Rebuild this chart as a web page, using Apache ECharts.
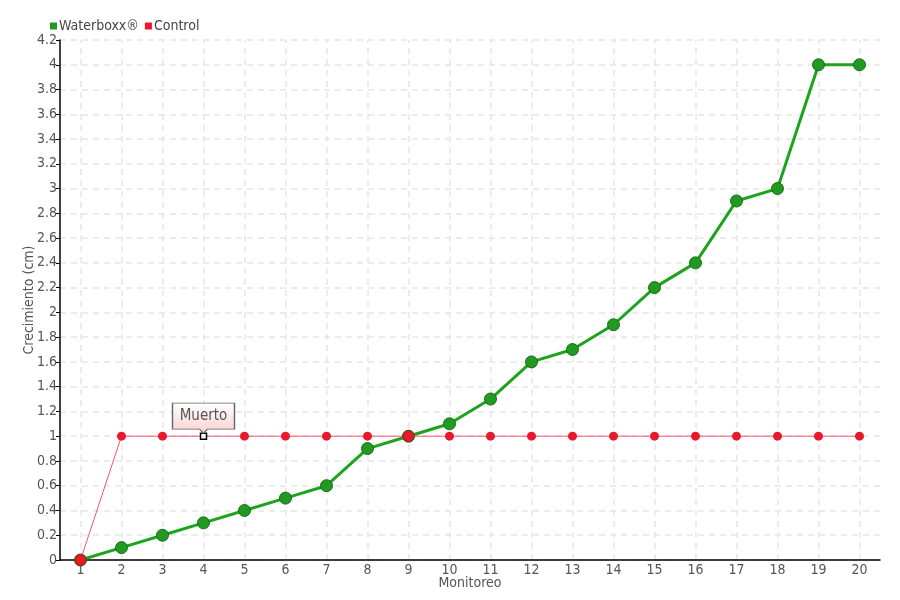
<!DOCTYPE html>
<html>
<head>
<meta charset="utf-8">
<script src="https://cdn.jsdelivr.net/npm/echarts@6/dist/echarts.min.js"></script>
<style>html,body{margin:0;padding:0;background:#fff}#c{width:900px;height:600px}</style>
</head>
<body>
<div id="c"></div>
<script>
const categories = ['1','2','3','4','5','6','7','8','9','10','11','12','13','14','15','16','17','18','19','20'];
const waterboxx = [0, 0.1, 0.2, 0.3, 0.4, 0.5, 0.6, 0.9, 1.0, 1.1, 1.3, 1.6, 1.7, 1.9, 2.2, 2.4, 2.9, 3.0, 4.0, 4.0];
const control = [0, 1, 1, 1, 1, 1, 1, 1, 1, 1, 1, 1, 1, 1, 1, 1, 1, 1, 1, 1];
const deadIndex = 3;
const deadLabel = 'Muerto';
const overlapIndices = [0, 8];

const FONT = '"Liberation Sans Narrow", "DejaVu Sans Condensed", sans-serif';
const GRID_LINE = {color: '#e6e6e6', type: [6, 5], width: 1.5};
const chart = echarts.init(document.getElementById('c'), null, {renderer: 'canvas'});

const controlData = control.map((v, i) => {
  if (i === deadIndex) return {
    value: v, symbol: 'rect', symbolSize: 6,
    itemStyle: {color: '#ffffff', borderColor: '#000000', borderWidth: 1.5}
  };
  if (overlapIndices.includes(i)) return {
    value: v, symbolSize: 11,
    itemStyle: {color: '#e8192c', borderColor: '#8a2a20', borderWidth: 1}
  };
  return v;
});

chart.setOption({
  animation: false,
  textStyle: {fontFamily: FONT},
  legend: {
    left: 45, top: 14,
    itemWidth: 7, itemHeight: 7, itemGap: 6,
    icon: 'rect',
    itemStyle: {borderWidth: 0},
    textStyle: {fontFamily: FONT, fontSize: 14, color: '#444', padding: [0, 0, 0, -3]},
    data: ['Waterboxx®', 'Control']
  },
  grid: {left: 60, right: 20, top: 40, bottom: 40, containLabel: false},
  xAxis: {
    type: 'category',
    data: categories,
    boundaryGap: true,
    name: 'Monitoreo', nameLocation: 'middle', nameGap: 16, nameMoveOverlap: false,
    nameTextStyle: {fontFamily: FONT, fontSize: 14, color: '#555'},
    axisLine: {lineStyle: {color: '#000', width: 1.5}},
    axisTick: {alignWithLabel: true, length: 4, lineStyle: {color: '#999'}},
    axisLabel: {fontFamily: FONT, fontSize: 14, color: '#555', margin: 3},
    splitLine: {show: false}
  },
  yAxis: {
    type: 'value', min: 0, max: 4.2, interval: 0.2,
    name: 'Crecimiento (cm)', nameLocation: 'middle', nameGap: 24, nameMoveOverlap: false,
    nameTextStyle: {fontFamily: FONT, fontSize: 14, color: '#555'},
    axisLine: {show: true, lineStyle: {color: '#000', width: 1.5}},
    axisTick: {show: true, length: 4, lineStyle: {color: '#000'}},
    axisLabel: {fontFamily: FONT, fontSize: 14, color: '#555', margin: 3,
      formatter: v => String(Math.round(v * 10) / 10)},
    splitLine: {show: true, lineStyle: GRID_LINE}
  },
  series: [
    {
      // vertical grid lines at each category centre
      name: 'grid', type: 'line', data: [], z: 0, silent: true,
      markLine: {
        z: 0, silent: true, symbol: ['none', 'none'], label: {show: false},
        lineStyle: GRID_LINE, emphasis: {disabled: true},
        data: categories.map((c, i) => ({xAxis: i}))
      }
    },
    {
      name: 'Waterboxx®', type: 'line', data: waterboxx, z: 2,
      symbol: 'circle', symbolSize: 12, showAllSymbol: true,
      lineStyle: {color: '#1fa31f', width: 3},
      itemStyle: {color: '#229a22', borderColor: '#176d17', borderWidth: 1}
    },
    {
      name: 'Control', type: 'line', data: controlData, z: 3,
      symbol: 'circle', symbolSize: 9, showAllSymbol: true,
      lineStyle: {color: '#f2566f', width: 1},
      itemStyle: {color: '#e8192c', borderColor: '#e8192c', borderWidth: 0},
      markPoint: {
        data: [{coord: [deadIndex, control[deadIndex]], value: deadLabel}],
        symbol: 'path://M0,0 L62,0 L62,26 L35,26 L31,30 L27,26 L0,26 Z',
        symbolSize: [62, 30],
        symbolOffset: [0, -18],
        itemStyle: {
          color: new echarts.graphic.LinearGradient(0, 0, 0, 1, [
            {offset: 0, color: '#ffffff'}, {offset: 1, color: '#fbcfcf'}
          ]),
          borderColor: '#666', borderWidth: 1
        },
        label: {show: true, formatter: deadLabel, position: 'inside', offset: [0, -2],
          fontFamily: FONT, fontSize: 15, color: '#555'}
      }
    }
  ]
});
</script>
</body>
</html>
